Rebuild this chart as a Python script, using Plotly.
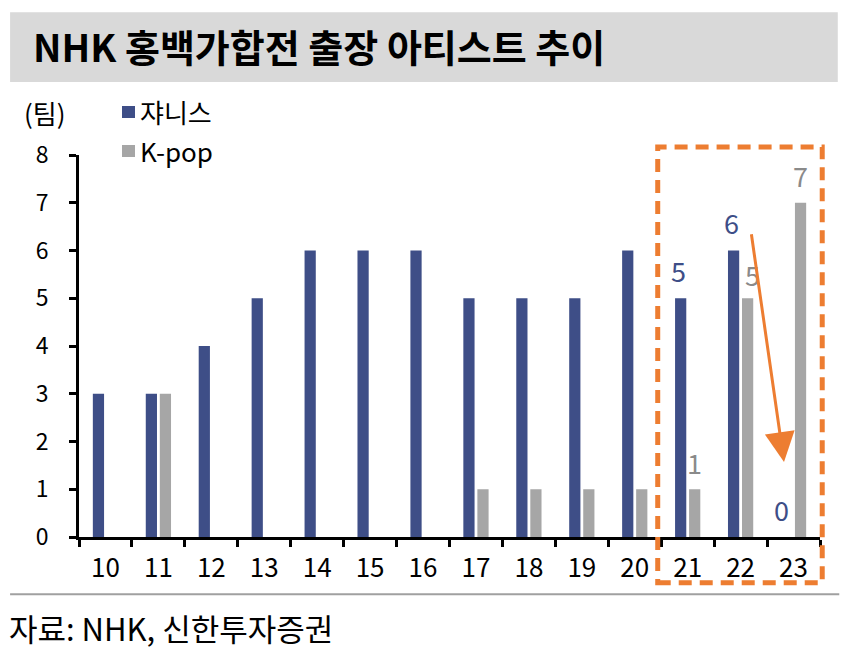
import plotly.graph_objects as go

years = ["10", "11", "12", "13", "14", "15", "16", "17", "18", "19", "20", "21", "22", "23"]
johnnys = [3, 3, 4, 5, 6, 6, 6, 5, 5, 5, 6, 5, 6, 0]
kpop = [0, 3, 0, 0, 0, 0, 0, 1, 1, 1, 1, 1, 5, 7]
series_names = ["쟈니스", "K-pop"]

BLUE = "#3E4E87"
GREY = "#A6A6A6"
GREY_TXT = "#8A8A8A"
ORANGE = "#ED7D31"
FONT = "Noto Sans CJK KR"

fig = go.Figure()
fig.add_trace(go.Bar(x=years, y=johnnys, name=series_names[0], marker_color=BLUE,
                     marker_line_width=0, showlegend=False))
fig.add_trace(go.Bar(x=years, y=kpop, name=series_names[1], marker_color=GREY,
                     marker_line_width=0, showlegend=False))

annotations = []
# value labels for 21-23 (x given as category index)
label_idx = [11, 12, 13]
for i in label_idx:
    annotations.append(dict(x=i, y=johnnys[i], text=str(johnnys[i]), showarrow=False,
                            xref="x", yref="y", yshift=28, xshift=-9 if johnnys[i] else -12,
                            font=dict(family=FONT, size=27, color=BLUE)))
    annotations.append(dict(x=i, y=kpop[i], text=str(kpop[i]), showarrow=False,
                            xref="x", yref="y", yshift=27 if i != 12 else 24,
                            xshift=12 if i == 12 else 7,
                            font=dict(family=FONT, size=27, color=GREY_TXT)))

# arrow
annotations.append(dict(x=12.82, y=1.57, ax=12.2, ay=6.37, xref="x", yref="y", axref="x", ayref="y",
                        showarrow=True, arrowhead=2, arrowsize=2, arrowwidth=3, arrowcolor=ORANGE,
                        text=""))
# title
annotations.append(dict(x=-0.065, y=1.287, xref="paper", yref="paper", xanchor="left", yanchor="middle",
                        text="<b>NHK 홍백가합전 출장 아티스트 추이</b>", showarrow=False,
                        font=dict(family=FONT, size=38, color="#000000")))
# unit
annotations.append(dict(x=-0.077, y=1.110, xref="paper", yref="paper", xanchor="left", yanchor="middle",
                        text="(팀)", showarrow=False, font=dict(family=FONT, size=26, color="#000000")))
# source
annotations.append(dict(x=-0.097, y=-0.238, xref="paper", yref="paper", xanchor="left", yanchor="middle",
                        text="자료: NHK, 신한투자증권", showarrow=False,
                        font=dict(family=FONT, size=31, color="#000000")))

# custom legend (squares + texts)
legend_colors = [BLUE, GREY]
legend_rows_y = [1.1126, 1.0105]
shapes = []
for name, col, yy in zip(series_names, legend_colors, legend_rows_y):
    shapes.append(dict(type="rect", xref="paper", yref="paper", x0=0.058, x1=0.0756,
                       y0=yy - 0.0157, y1=yy + 0.0157, fillcolor=col, line_width=0))
    annotations.append(dict(x=0.079, y=yy, xref="paper", yref="paper", xanchor="left", yanchor="middle",
                            text=name, showarrow=False, font=dict(family=FONT, size=26, color="#000000")))

shapes += [
    dict(type="rect", xref="paper", yref="paper", x0=-0.093, x1=1.024, y0=1.191, y1=1.374,
         fillcolor="#D9D9D9", line_width=0, layer="below"),
    dict(type="line", xref="paper", yref="paper", x0=-0.093, x1=1.026, y0=-0.150, y1=-0.150,
         line=dict(color="#A0A0A0", width=2)),
    dict(type="rect", xref="paper", yref="paper", x0=0.781, x1=1.003, y0=-0.120, y1=1.021,
         line=dict(color=ORANGE, width=5, dash="13px,8px"), fillcolor="rgba(0,0,0,0)"),
]

fig.update_layout(
    width=850, height=667,
    margin=dict(l=71, r=38, t=147, b=138),
    paper_bgcolor="white", plot_bgcolor="white",
    barmode="group", bargap=0.47, bargroupgap=0.2,
    font=dict(family=FONT, color="#000000"),
    showlegend=False,
    annotations=annotations,
    shapes=shapes,
)
fig.update_xaxes(type="category", range=[-0.5, 13.5], tickson="boundaries", ticks="outside",
                 ticklen=7, tickwidth=3, tickangle=0, automargin=False,
                 tickcolor="#000000", showline=True, linewidth=3, linecolor="#000000",
                 showgrid=False, tickfont=dict(family=FONT, size=26), ticklabelstandoff=6)
fig.update_yaxes(range=[0, 8], dtick=1, ticks="outside", ticklen=7, tickwidth=3, tickcolor="#000000",
                 showline=True, linewidth=3, linecolor="#000000", showgrid=False, zeroline=False,
                 automargin=False,
                 tickfont=dict(family=FONT, size=23), ticklabelstandoff=16)

fig.write_html("out.html")
